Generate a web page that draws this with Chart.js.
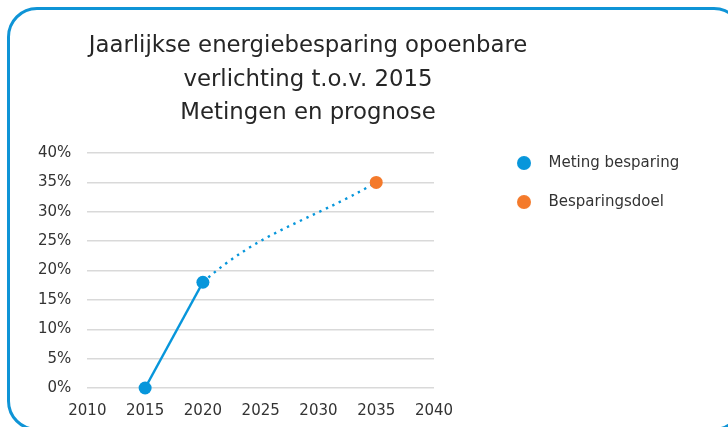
<!DOCTYPE html>
<html>
<head>
<meta charset="utf-8">
<script src="https://cdn.jsdelivr.net/npm/chart.js@4.4.1/dist/chart.umd.min.js"></script>
<style>
  html, body { margin: 0; padding: 0; background: #fff; overflow: hidden; }
  #wrap { position: relative; width: 728px; height: 427px; overflow: hidden; }
  #frame {
    position: absolute; left: 7px; top: 7px; width: 737px; height: 424px;
    box-sizing: border-box; border: 3px solid #0f94d6; border-radius: 30px;
    pointer-events: none;
  }
</style>
</head>
<body>
<div id="wrap">
  <canvas id="chart" width="728" height="427"></canvas>
  <div id="frame"></div>
</div>
<script>
// Gegevens (besparing in % t.o.v. 2015)
const titel = ['Jaarlijkse energiebesparing opoenbare', 'verlichting t.o.v. 2015', 'Metingen en prognose'];
const meetJaren = [2015, 2020];
const meetBesparing = [0, 18];
const doelJaren = [2035];
const doelBesparing = [35];
const prognoseJaren = [2015, 2020, 2035];
const prognoseBesparing = [0, 18, 35];
const xTicks = { min: 2010, max: 2040, step: 5 };
const yTicks = { min: 0, max: 40, step: 5 };

const blauw = '#0796db';
const oranje = '#f47a2b';

function punten(xs, ys) {
    return xs.map((x, i) => ({ x: x, y: ys[i] }));
}

// kleine cirkel als legend-symbool
function stip(kleur) {
    const c = document.createElement('canvas');
    c.width = 14; c.height = 14;
    const g = c.getContext('2d');
    g.fillStyle = kleur;
    g.beginPath();
    g.arc(7, 7, 7, 0, Math.PI * 2);
    g.fill();
    return c;
}

// legend en titel op de plek zetten zoals in het origineel
const layoutNudge = {
    id: 'layoutNudge',
    afterLayout(chart) {
        const area = chart.chartArea;
        const lg = chart.legend;
        lg.left = area.right + 49;
        lg.right = chart.width;
        lg.top = area.top - 21.5;
        const t = chart.titleBlock;
        t.left -= 20; t.right -= 20;
    }
};

Chart.defaults.font.family = '"DejaVu Sans", sans-serif';
Chart.defaults.font.size = 15;
Chart.defaults.color = '#333333';

new Chart(document.getElementById('chart'), {
    type: 'line',
    data: {
        datasets: [
            {
                label: 'Meting besparing',
                data: punten(meetJaren, meetBesparing),
                borderColor: blauw,
                backgroundColor: blauw,
                borderWidth: 2.5,
                pointRadius: 6.5,
                pointBorderWidth: 0,
                tension: 0,
                clip: false
            },
            {
                label: 'Besparingsdoel',
                data: punten(doelJaren, doelBesparing),
                borderColor: oranje,
                backgroundColor: oranje,
                showLine: false,
                pointRadius: 6.5,
                pointBorderWidth: 0,
                clip: false
            },
            {
                label: 'Prognose',
                data: punten(prognoseJaren, prognoseBesparing),
                borderColor: blauw,
                borderWidth: 2.4,
                borderDash: [2.4, 4.8],
                pointRadius: 0,
                tension: 0.4,
                order: 1,
                clip: false,
                segment: {
                    borderColor: ctx => ctx.p0DataIndex === 0 ? 'rgba(0,0,0,0)' : blauw
                }
            }
        ]
    },
    options: {
        responsive: false,
        animation: false,
        layout: { padding: { left: 22, right: 94, top: 0, bottom: -7 } },
        plugins: {
            title: {
                display: true,
                text: titel,
                color: '#262626',
                font: { size: 22.8, weight: 'normal', lineHeight: 1.47 },
                padding: { top: 29.5, bottom: 23 }
            },
            legend: {
                position: 'right',
                align: 'start',
                fullSize: false,
                maxWidth: 200,
                labels: {
                    usePointStyle: true,
                    pointStyleWidth: 34,
                    padding: 24,
                    font: { size: 15 },
                    color: '#333333',
                    generateLabels: function (chart) {
                        const items = Chart.defaults.plugins.legend.labels.generateLabels(chart);
                        return items
                            .filter(it => it.datasetIndex < 2)
                            .map(it => {
                                it.pointStyle = stip(it.fillStyle);
                                return it;
                            });
                    }
                }
            },
            tooltip: { enabled: false }
        },
        scales: {
            x: {
                type: 'linear',
                min: xTicks.min,
                max: xTicks.max,
                grid: { display: false, drawTicks: false },
                border: { display: false },
                ticks: {
                    stepSize: xTicks.step,
                    padding: 14,
                    callback: v => String(v)
                }
            },
            y: {
                min: yTicks.min,
                max: yTicks.max,
                grid: { color: '#d9d9d9', lineWidth: 1.5, drawTicks: false },
                border: { display: false },
                ticks: {
                    stepSize: yTicks.step,
                    padding: 16,
                    callback: v => v + '%'
                }
            }
        }
    },
    plugins: [layoutNudge]
});
</script>
</body>
</html>
